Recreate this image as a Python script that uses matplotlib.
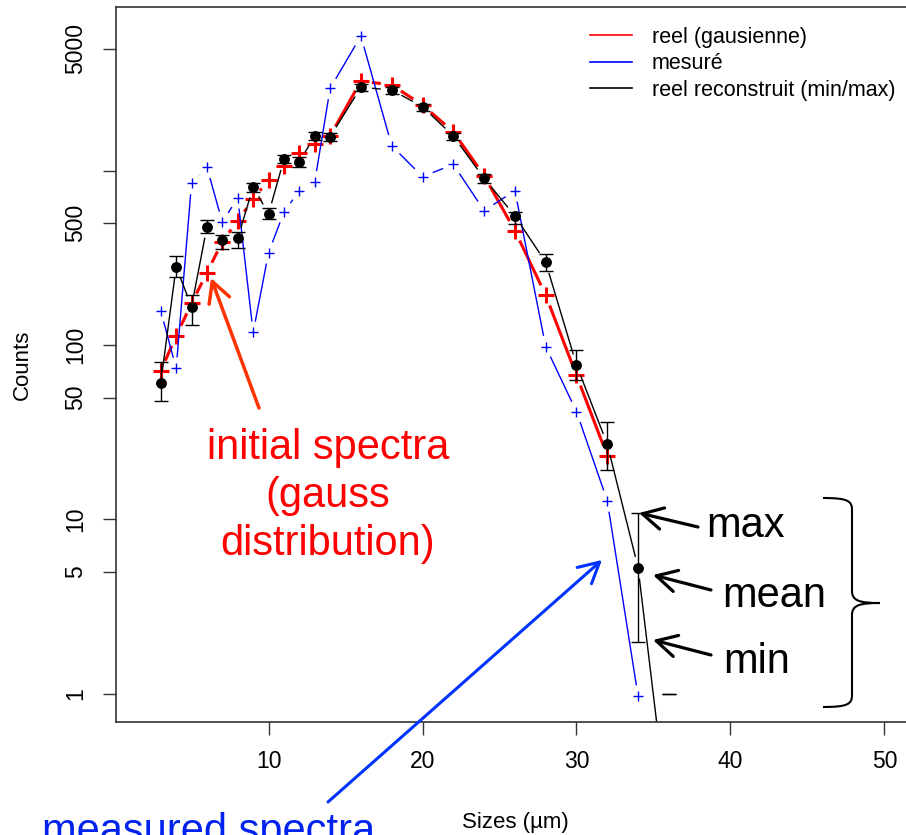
import numpy as np
import matplotlib
matplotlib.use("Agg")
import matplotlib.pyplot as plt
from matplotlib.lines import Line2D
from matplotlib.path import Path
from matplotlib.patches import PathPatch

plt.rcParams["font.family"] = ["Liberation Sans", "DejaVu Sans"]

# --- données ---
sizes = [3, 4, 5, 6, 7, 8, 9, 10, 11, 12, 13, 14, 16, 18, 20, 22, 24, 26, 28, 30, 32, 34]
sizes_reel = sizes[:-1]
sizes_rec = sizes + [36]

reel = [71, 113, 173, 260, 391, 516, 684, 883, 1066, 1254, 1419, 1577,
        3258, 3090, 2373, 1667, 934, 452, 193, 67, 23.2]
mesure = [157, 73.5, 845, 1043, 505, 699, 118, 338, 578, 766, 859, 2958,
          5900, 1387, 922, 1084, 589, 766, 97.8, 41.5, 12.8, 0.97]
rec_mean = [60.8, 281, 166, 476, 400, 409, 807, 564, 1159, 1123, 1577, 1563,
            3000, 2892, 2321, 1577, 902, 549, 298, 76.8, 27, 5.3, 0.18]
rec_max = [79.6, 325, 193, 520, 425, 443, 851, 607, 1228, 1200, 1655, 1648,
           3119, 3020, 2404, 1648, 955, 576, 331, 93.6, 36, 10.9, 1]
rec_min = [47.8, 246, 131, 437, 353, 358, 756, 525, 1099, 1052, 1496, 1482,
           2866, 2743, 2203, 1496, 845, 494, 267, 63, 19.2, 1.98, 0]

y_ticks = [1, 5, 10, 50, 100, 500, 1000, 5000]
y_ticklabels = ["1", "5", "10", "50", "100", "500", "", "5000"]
x_ticks = [10, 20, 30, 40, 50]

W, H = 906, 835


def fpx(x, y):
    """pixel (origine en haut à gauche) -> fraction de figure"""
    return x / W, 1 - y / H


def gapped(ax, xs, ys, gap=11, **kw):
    """ligne façon R type='b' : segments raccourcis autour des points"""
    pts = ax.transData.transform(np.column_stack([xs, ys]))
    inv = ax.transData.inverted()
    for p0, p1 in zip(pts[:-1], pts[1:]):
        d = p1 - p0
        L = np.hypot(*d)
        if L <= 2 * gap:
            continue
        u = d / L
        seg = inv.transform([p0 + u * gap, p1 - u * gap])
        ax.plot(seg[:, 0], seg[:, 1], **kw)


fig = plt.figure(figsize=(W / 100, H / 100), dpi=100)
x0, y0 = fpx(115.8, 722)
x1, y1 = fpx(914, 7)
ax = fig.add_axes([x0, y0, x1 - x0, y1 - y0])
ax.set_yscale("log")
ax.set_xlim(0.08, 51.92)
ax.set_ylim(0.691, 8650)

# réel (gaussienne)
gapped(ax, sizes_reel, reel, color="red", lw=2.2, solid_capstyle="butt")
ax.plot(sizes_reel, reel, ls="none", marker="+", ms=11.5, mew=2.2, color="red")

# mesuré
gapped(ax, sizes, mesure, color="blue", lw=1.0, solid_capstyle="butt")
ax.plot(sizes, mesure, ls="none", marker="+", ms=7.7, mew=1.0, color="blue")

# réel reconstruit (moyenne + min/max)
gapped(ax, sizes_rec, rec_mean, color="black", lw=1.0, solid_capstyle="butt")
ax.plot(sizes_rec, rec_mean, ls="none", marker="o", ms=6.8, color="black")
xs = np.array(sizes_rec, dtype=float)
mn = np.array(rec_min, dtype=float)
mx = np.array(rec_max, dtype=float)
mu = np.array(rec_mean, dtype=float)
ok = mn > 0
ax.errorbar(xs[ok], mu[ok], yerr=[mu[ok] - mn[ok], mx[ok] - mu[ok]], fmt="none",
            ecolor="black", elinewidth=1.0, capsize=5.2, capthick=1.0)
ax.errorbar(xs[~ok], mx[~ok], yerr=0, fmt="none", ecolor="black",
            elinewidth=1.0, capsize=5.2, capthick=1.0)

# axes façon R
ax.set_xticks(x_ticks)
ax.set_yticks(y_ticks)
ax.set_yticklabels(y_ticklabels)
ax.yaxis.set_minor_locator(matplotlib.ticker.NullLocator())
ax.tick_params(direction="out", length=9.4, width=1.0, labelsize=16.5, pad=11,
               color="#333333")
for lbl in ax.get_yticklabels():
    lbl.set_rotation(90)
    lbl.set_va("center")
for sp in ax.spines.values():
    sp.set_linewidth(1.2)
    sp.set_color("#333333")

ax.set_xlabel("Sizes (µm)", fontsize=16)
ax.set_ylabel("Counts", fontsize=16)
ax.xaxis.set_label_coords(0.5, (722 - 812) / 715)
ax.yaxis.set_label_coords((33 - 115.8) / (914 - 115.8), 0.5)

handles = [Line2D([], [], color="red", lw=1.2),
           Line2D([], [], color="blue", lw=1.2),
           Line2D([], [], color="black", lw=1.2)]
fig.legend(handles, ["reel (gausienne)", "mesuré", "reel reconstruit (min/max)"],
           loc="upper left", bbox_to_anchor=fpx(590, 27), frameon=False,
           fontsize=15.5, handlelength=1.95, handletextpad=0.93,
           borderpad=0, borderaxespad=0, labelspacing=0.25)

# annotations
fig.text(*fpx(328, 496), "initial spectra\n(gauss\ndistribution)", color="red",
         fontsize=30, ha="center", va="center", multialignment="center",
         linespacing=1.27)
fig.text(*fpx(42, 843), "measured spectra", color="#0022ee", fontsize=30,
         ha="left", va="baseline")
for txt, (tx, ty) in [("max", (706, 537)), ("mean", (722, 607)), ("min", (723, 673))]:
    fig.text(*fpx(tx, ty), txt, color="black", fontsize=30, ha="left", va="baseline")


def arrow(tail, tip, color, lw):
    fig.add_artist(matplotlib.patches.FancyArrowPatch(
        fpx(*tail), fpx(*tip), transform=fig.transFigure,
        arrowstyle="->,head_length=0.73,head_width=0.39", mutation_scale=20,
        color=color, lw=lw, shrinkA=0, shrinkB=0))


arrow((259, 408), (211, 278), "#ff3300", 2.5)
arrow((328, 802), (602, 560), "#0033ff", 2.2)
arrow((698, 527), (639, 513), "black", 2.3)
arrow((711, 590), (653, 575), "black", 2.3)
arrow((711, 655), (653, 640), "black", 2.3)

# accolade
bx0, bxv, bxt = 823, 852, 880
bt, bm, bb = 498, 603, 707
verts = [(bx0, bt), (bxv - 4, bt), (bxv, bt + 3), (bxv, bt + 12),
         (bxv, bm - 12),
         (bxv, bm - 2), (bxv + 8, bm), (bxt, bm),
         (bxv + 8, bm), (bxv, bm + 2), (bxv, bm + 12),
         (bxv, bb - 12),
         (bxv, bb - 3), (bxv - 4, bb), (bx0, bb)]
codes = [Path.MOVETO, Path.CURVE4, Path.CURVE4, Path.CURVE4,
         Path.LINETO,
         Path.CURVE4, Path.CURVE4, Path.CURVE4,
         Path.CURVE4, Path.CURVE4, Path.CURVE4,
         Path.LINETO,
         Path.CURVE4, Path.CURVE4, Path.CURVE4]
brace = Path([fpx(*v) for v in verts], codes)
fig.add_artist(PathPatch(brace, transform=fig.transFigure, fill=False,
                         edgecolor="black", lw=1.5))

fig.savefig("out.png", dpi=100)
